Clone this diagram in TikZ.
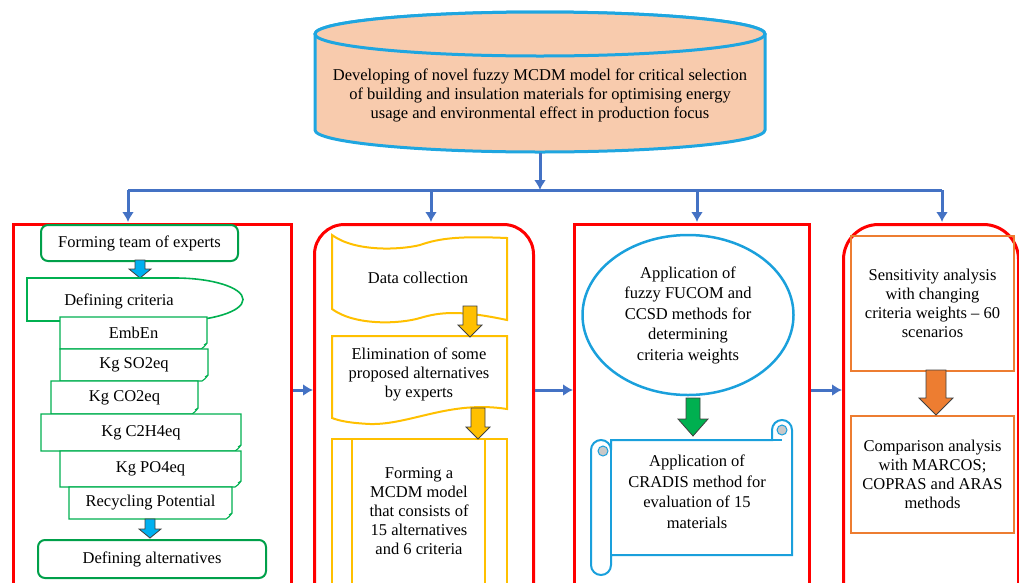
\documentclass[tikz,border=0pt]{standalone}
\usepackage{fontspec}
\setmainfont{Liberation Serif}
\usepackage{tikz}
\usetikzlibrary{arrows.meta}
\usetikzlibrary{calc}
\usetikzlibrary{shapes}
\usetikzlibrary{positioning}
\tikzset{>=latex}

\definecolor{panelred}{HTML}{FF0000}
\definecolor{linkblue}{HTML}{4472C4}
\definecolor{cylfill}{HTML}{F8CBAD}
\definecolor{cylline}{HTML}{1FA6E0}
\definecolor{teamgreen}{HTML}{00A04A}
\definecolor{critgreen}{HTML}{00B050}
\definecolor{datagold}{HTML}{FFC000}
\definecolor{methblue}{HTML}{1AA0DC}
\definecolor{analorange}{HTML}{ED7D31}
\definecolor{arrowblue}{HTML}{00B0F0}
\definecolor{arrowgreen}{HTML}{00B050}
\definecolor{rollgray}{HTML}{C8C8C8}

\begin{document}
\begin{tikzpicture}[x=1pt, y=-1pt,
        font=\fontsize{16.5}{19}\selectfont,
        txt/.style={align=center, inner sep=0pt},
        panel/.style={draw=panelred, line width=3pt, anchor=north west, minimum height=400pt},
        link/.style={draw=linkblue, line width=3pt, -{Latex[length=10pt,width=12pt]}},
        busline/.style={draw=linkblue, line width=3pt},
        cyl/.style={draw=cylline, fill=cylfill, line width=3pt},
        teambox/.style={draw=teamgreen, line width=2pt, rounded corners=7pt, fill=white, anchor=north west},
        critline/.style={draw=critgreen, line width=1.1pt, fill=white},
        goldline/.style={draw=datagold, line width=2pt, fill=white},
        scroll/.style={draw=methblue, line width=2pt, fill=white},
        orangebox/.style={draw=analorange, line width=2pt, anchor=north west, minimum width=163pt, align=center}
    ]

    \useasboundingbox (0,0) rectangle (1019,582);
    \clip (0,0) rectangle (1019,582);

    %=== Macro for block arrows ===%
    % #1 = x
    % #2 = top y
    % #3 = tip y
    % #4 = shaft width
    % #5 = head width
    % #6 = head length
    % #7 = fill colour
    \newcommand{\blockdown}[7]{
        \pgfmathsetmacro{\hy}{#3-#6}
        \filldraw[fill=#7, draw=black!75, line width=0.8pt]
            ({#1-#4/2},#2) -- ({#1+#4/2},#2) -- ({#1+#4/2},\hy) -- ({#1+#5/2},\hy)
            -- (#1,#3) -- ({#1-#5/2},\hy) -- ({#1-#4/2},\hy) -- cycle;
    }

    %=== Macro for criteria boxes ===%
    % #1 = name
    % #2 = left, #3 = top
    % #4 = right, #5 = bottom
    % #6 = text
    \newcommand{\critbox}[6]{
        \filldraw[critline] (#2,#3) -- (#4,#3) -- (#4,#5-6)
            .. controls (#4-2,#5-3) and (#4-4,#5-1) .. (#4-6,#5) -- (#2,#5) -- cycle;
        \draw[critline, fill=none] (#4,#5-6) -- (#4-3,#5-4);
        \node[txt] (#1) at ({(#2+#4)/2},{(#3+#5)/2}) {#6};
    }

    %=== Goal ===%
    \filldraw[cyl] (315,34) -- (315,130)
        arc[start angle=180, end angle=360, x radius=225pt, y radius=22pt]
        -- (765,34) arc[start angle=0, end angle=180, x radius=225pt, y radius=22pt] -- cycle;
    \draw[cyl] (540,34) ellipse[x radius=225pt, y radius=22pt];
    \node[txt] (goal) at (540,95) {Developing of novel fuzzy MCDM model for critical selection\\
        of building and insulation materials for optimising energy\\
        usage and environmental effect in production focus};
    \coordinate (goalbase) at (540,153);

    %=== Panels ===%
    \node[panel, minimum width=278pt] (p1) at (12,223) {};
    \node[panel, minimum width=219pt, rounded corners=30pt] (p2) at (313,223) {};
    \node[panel, minimum width=235pt] (p3) at (573,223) {};
    \node[panel, minimum width=175pt, rounded corners=35pt] (p4) at (842,223) {};

    %=== Panel 1: experts and criteria ===%
    \node[teambox, minimum width=197pt, minimum height=36pt] (team) at (40,224) {Forming team of experts};
    \blockdown{140}{260}{278}{10}{22}{9}{arrowblue}
    \filldraw[critline, line width=1.6pt] (27,278) -- (175,278)
        arc[start angle=90, end angle=-90, x radius=68pt, y radius=21.5pt] -- (27,321) -- cycle;
    \node[txt] (crit) at (119,301) {Defining criteria};
    \critbox{emb}{60}{317}{207}{349}{EmbEn}
    \critbox{so2}{60}{349}{208}{381}{Kg SO2eq}
    \critbox{co2}{51}{381}{198}{414}{Kg CO2eq}
    \critbox{cch}{41}{414}{241}{451}{Kg C2H4eq}
    \critbox{po4}{60}{451}{241}{487}{Kg PO4eq}
    \critbox{rec}{69}{487}{232}{519}{Recycling Potential}
    \blockdown{150}{519}{538}{10}{22}{9}{arrowblue}
    \node[teambox, minimum width=228pt, minimum height=38pt] (alts) at (37,539) {Defining alternatives};

    %=== Panel 2: data ===%
    \filldraw[goldline] (332,235) .. controls (355,252) and (400,250) .. (420,245)
        .. controls (440,238) and (460,236) .. (507,238) -- (507,320)
        .. controls (460,310) and (440,312) .. (420,318)
        .. controls (400,324) and (355,326) .. (332,309) -- cycle;
    \node[txt] (datacol) at (418,278) {Data collection};
    \filldraw[goldline] (332,336) -- (507,336) -- (507,409)
        .. controls (450,400) and (410,425) .. (370,424)
        .. controls (350,423) and (340,421) .. (332,418) -- cycle;
    \node[txt] (elim) at (419,374) {Elimination of some\\proposed alternatives\\by experts};
    \blockdown{470}{306}{337}{14}{24}{12}{datagold}
    \filldraw[goldline] (332,439) rectangle (507,590);
    \draw[goldline] (352,439) -- (352,590) (485,439) -- (485,590);
    \node[txt] (mcdm) at (419,511) {Forming a\\MCDM model\\that consists of\\15 alternatives\\and 6 criteria};
    \blockdown{478}{408}{439}{14}{24}{12}{datagold}

    %=== Panel 3: methods ===%
    \node[ellipse, draw=methblue, line width=2.5pt, minimum width=211pt, minimum height=160pt,
        txt, font=\fontsize{16.5}{20.5}\selectfont] (weights) at (688,315)
        {Application of\\fuzzy FUCOM and\\CCSD methods for\\determining\\criteria weights};
    \filldraw[scroll] (611,440) -- (772,440) -- (772,430)
        arc[start angle=180, end angle=0, radius=10pt] -- (792,555) -- (611,555) -- (611,565)
        arc[start angle=0, end angle=-180, radius=10pt] -- (591,450)
        arc[start angle=180, end angle=0, radius=10pt] -- cycle;
    \draw[scroll] (611,450) -- (611,555);
    \draw[scroll] (772,440) -- (782,440);
    \filldraw[scroll, fill=rollgray, line width=1pt] (782,430) circle[radius=5pt];
    \filldraw[scroll, fill=rollgray, line width=1pt] (603,451) circle[radius=5pt];
    \node[txt, font=\fontsize{16.5}{20.5}\selectfont] (cradis) at (697,492)
        {Application of\\CRADIS method for\\evaluation of 15\\materials};
    \blockdown{693}{398}{436}{14}{30}{17}{arrowgreen}

    %=== Panel 4: analysis ===%
    \node[orangebox, minimum height=135pt] (sens) at (850,235)
        {Sensitivity analysis\\with changing\\criteria weights -- 60\\scenarios};
    \node[orangebox, minimum height=117pt] (comp) at (850,415)
        {Comparison analysis\\with MARCOS;\\COPRAS and ARAS\\methods};
    \blockdown{936}{370}{415}{20}{34}{17}{analorange}

    %=== Connectors ===%
    \coordinate (hub) at (540,190);
    \coordinate (d1) at (128,190);
    \coordinate (d2) at (431,190);
    \coordinate (d3) at (697,190);
    \coordinate (d4) at (942,190);
    \draw[link] (goalbase) -- (hub);
    \draw[busline] (d1) -- (d4);
    \foreach \i in {1,...,4}
        \draw[link, shorten >=1pt] (d\i) -- (d\i |- p\i.north);
    \coordinate (hrow) at (0,390);
    \draw[link] (p1.east |- hrow) -- (p2.west |- hrow);
    \draw[link] (p2.east |- hrow) -- (p3.west |- hrow);
    \draw[link] (p3.east |- hrow) -- (p4.west |- hrow);

\end{tikzpicture}
\end{document}
